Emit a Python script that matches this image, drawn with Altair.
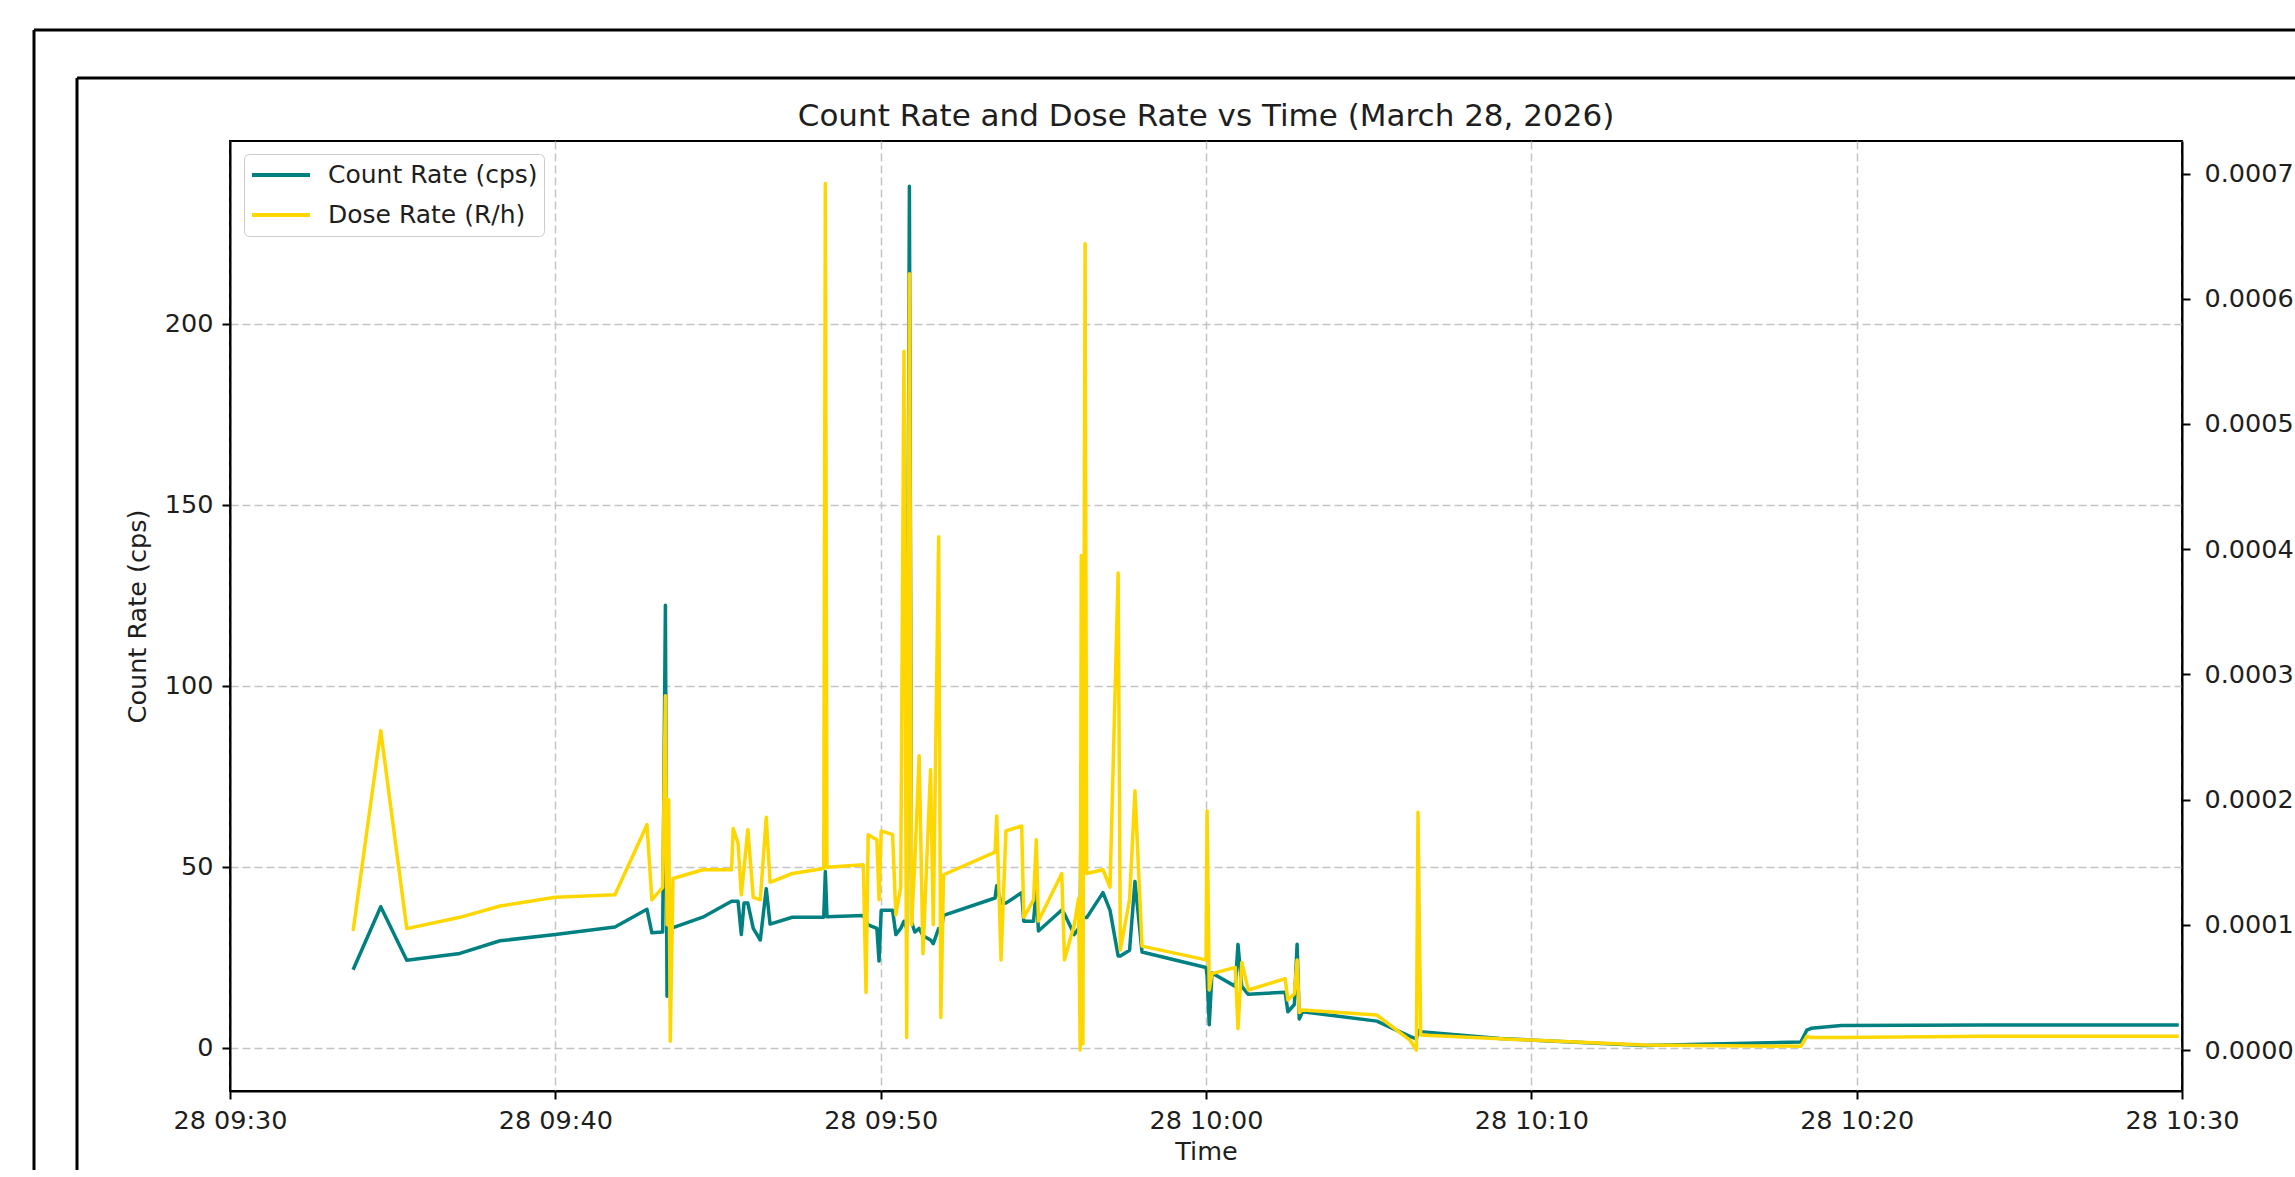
import altair as alt
import pandas as pd

# ---- data (time of day, count rate in cps, dose rate in R/h) ----
times = [
    "09:33:47", "09:34:38", "09:35:26", "09:37:04", "09:38:18", "09:40:00", "09:41:50",
    "09:42:49", "09:42:58", "09:43:18", "09:43:23", "09:43:26", "09:43:29", "09:43:32",
    "09:43:37", "09:44:32", "09:45:25", "09:45:28", "09:45:37", "09:45:43", "09:45:48",
    "09:45:55", "09:46:05", "09:46:18", "09:46:29", "09:46:36", "09:47:17", "09:48:15",
    "09:48:18", "09:48:21", "09:49:28", "09:49:33", "09:49:37", "09:49:53", "09:49:57",
    "09:50:01", "09:50:22", "09:50:28", "09:50:37", "09:50:43", "09:50:48", "09:50:53",
    "09:50:57", "09:51:03", "09:51:11", "09:51:18", "09:51:32", "09:51:37", "09:51:47",
    "09:51:51", "09:51:56", "09:53:31", "09:53:34", "09:53:42", "09:53:51", "09:54:20",
    "09:54:24", "09:54:42", "09:54:47", "09:54:51", "09:55:34", "09:55:39", "09:55:57",
    "09:56:05", "09:56:08", "09:56:10", "09:56:13", "09:56:17", "09:56:20", "09:56:50",
    "09:57:03", "09:57:18", "09:57:22", "09:57:39", "09:57:49", "09:58:02", "10:00:00",
    "10:00:02", "10:00:06", "10:00:11", "10:00:54", "10:00:59", "10:01:06", "10:01:18",
    "10:02:26", "10:02:31", "10:02:43", "10:02:48", "10:02:52", "10:02:58", "10:05:15",
    "10:06:16", "10:06:28", "10:06:31", "10:06:36", "10:09:02", "10:13:28", "10:18:17",
    "10:18:28", "10:18:36", "10:19:32", "10:24:00", "10:29:54",
]
count_rate = [
    21.6, 39.0, 24.2, 26.1, 29.6, 31.3, 33.4,
    38.3, 31.8, 32.0, 122.3, 14.3, 33.0, 33.0,
    33.2, 36.1, 40.5, 40.5, 40.5, 31.3, 40.0,
    40.0, 33.0, 29.8, 44.0, 34.2, 36.1, 36.1,
    48.7, 36.2, 36.6, 35.0, 34.0, 33.0, 24.0,
    38.0, 38.0, 31.3, 33.0, 35.0, 33.0, 238.0,
    34.7, 32.0, 33.0, 31.0, 29.8, 28.8, 33.0,
    32.0, 36.6, 41.4, 44.8, 40.0, 40.0, 42.9,
    35.0, 35.0, 44.0, 32.3, 38.1, 37.0, 31.3,
    33.0, 33.0, 78.0, 36.0, 36.0, 36.0, 42.9,
    38.0, 25.4, 25.4, 27.0, 46.0, 26.5, 22.2,
    20.0, 6.4, 20.7, 17.0, 28.6, 17.0, 14.8,
    15.4, 10.0, 12.0, 28.6, 8.0, 10.0, 7.4,
    3.2, 2.5, 4.8, 4.5, 2.6, 0.7, 1.6,
    4.9, 5.4, 6.2, 6.3, 6.3,
]
dose_rate = [
    0.95e-4, 2.55e-4, 0.97e-4, 1.06e-4, 1.15e-4, 1.22e-4, 1.24e-4,
    1.80e-4, 1.20e-4, 1.30e-4, 2.83e-4, 1.00e-4, 2.00e-4, 0.07e-4,
    1.37e-4, 1.44e-4, 1.44e-4, 1.77e-4, 1.65e-4, 1.24e-4, 1.45e-4,
    1.76e-4, 1.22e-4, 1.20e-4, 1.86e-4, 1.34e-4, 1.41e-4, 1.45e-4,
    6.92e-4, 1.46e-4, 1.48e-4, 0.46e-4, 1.72e-4, 1.68e-4, 1.20e-4,
    1.75e-4, 1.72e-4, 1.08e-4, 1.30e-4, 5.58e-4, 0.10e-4, 6.20e-4,
    1.00e-4, 1.50e-4, 2.35e-4, 0.77e-4, 2.24e-4, 1.00e-4, 4.10e-4,
    0.26e-4, 1.40e-4, 1.58e-4, 1.87e-4, 0.72e-4, 1.75e-4, 1.79e-4,
    1.06e-4, 1.20e-4, 1.68e-4, 1.03e-4, 1.41e-4, 0.72e-4, 1.00e-4,
    1.21e-4, 0.00e-4, 3.95e-4, 0.05e-4, 6.44e-4, 1.41e-4, 1.44e-4,
    1.30e-4, 3.81e-4, 0.80e-4, 1.20e-4, 2.07e-4, 0.83e-4, 0.72e-4,
    1.91e-4, 0.48e-4, 0.61e-4, 0.66e-4, 0.17e-4, 0.70e-4, 0.48e-4,
    0.57e-4, 0.40e-4, 0.45e-4, 0.72e-4, 0.30e-4, 0.32e-4, 0.28e-4,
    0.08e-4, 0.00e-4, 1.90e-4, 0.12e-4, 0.09e-4, 0.04e-4, 0.03e-4,
    0.11e-4, 0.10e-4, 0.10e-4, 0.11e-4, 0.11e-4,
]
series_names = ["Count Rate (cps)", "Dose Rate (R/h)"]
series_colors = ["#008080", "#FFD700"]
count_ticks = [0, 50, 100, 150, 200]
dose_ticks = [0.0, 0.0001, 0.0002, 0.0003, 0.0004, 0.0005, 0.0006, 0.0007]
time_ticks = ["09:30", "09:40", "09:50", "10:00", "10:10", "10:20", "10:30"]

df = pd.DataFrame({
    "time": ["2026-03-28T" + t for t in times],
    "count": count_rate,
    "dose": dose_rate,
})


def dt(hhmm):
    h, m = hhmm.split(":")
    return alt.DateTime(year=2026, month=3, date=28, hours=int(h), minutes=int(m))


FONT = "DejaVu Sans"
TXT = "#1e1e1e"
W, H = 1952, 950
PAD = {"left": 230, "top": 141, "right": 113, "bottom": 79}

color_scale = alt.Scale(domain=series_names, range=series_colors)

x_enc = alt.X(
    "time:T",
    title="Time",
    scale=alt.Scale(domain=[dt(time_ticks[0]), dt(time_ticks[-1])], nice=False),
    axis=alt.Axis(
        format="%d %H:%M",
        values=[dt(t) for t in time_ticks],
        grid=True,
        gridDash=[8, 4],
        gridColor="#c4c4c4",
        gridWidth=1.5,
        labelPadding=9,
        labelFlush=False,
        titlePadding=6,
    ),
)

legend = alt.Legend(
    title=None,
    orient="none",
    legendX=14,
    legendY=13,
    symbolType="stroke",
    symbolSize=3364,
    symbolStrokeWidth=4,
    labelFontSize=25,
    labelFont=FONT,
    labelColor=TXT,
    labelOffset=16,
    labelLimit=600,
    clipHeight=30,
    rowPadding=10,
    padding=6,
    strokeColor="#cccccc",
    fillColor="#ffffff",
    cornerRadius=5,
)

count_line = (
    alt.Chart(df)
    .transform_calculate(series="'Count Rate (cps)'")
    .mark_line(strokeWidth=3.5, strokeJoin="round")
    .encode(
        x=x_enc,
        y=alt.Y(
            "count:Q",
            title="Count Rate (cps)",
            scale=alt.Scale(domain=[-11.9, 250.5], nice=False, zero=False),
            axis=alt.Axis(
                orient="left",
                values=count_ticks,
                grid=True,
                gridDash=[8, 4],
                gridColor="#c4c4c4",
                gridWidth=1.5,
                labelPadding=9,
                titlePadding=14,
            ),
        ),
        color=alt.Color("series:N", scale=color_scale, legend=legend),
    )
)

dose_line = (
    alt.Chart(df)
    .transform_calculate(series="'Dose Rate (R/h)'")
    .mark_line(strokeWidth=3.5, strokeJoin="round")
    .encode(
        x=x_enc,
        y=alt.Y(
            "dose:Q",
            title=None,
            scale=alt.Scale(domain=[-0.0000327, 0.000726], nice=False, zero=False),
            axis=alt.Axis(
                orient="right",
                values=dose_ticks,
                format=".4f",
                grid=False,
                labelPadding=14,
            ),
        ),
        color=alt.Color("series:N", scale=color_scale, legend=legend),
    )
)

# screenshot frame lines around the figure (decoration only)
frame_data = alt.Data(values=[{"k": 0}])
frame_w = W + PAD["right"]
frame_b = H + PAD["bottom"]
frames = [
    alt.Chart(frame_data).mark_rule(color="black", strokeWidth=3).encode(
        x=alt.value(-196), y=alt.value(-111), y2=alt.value(frame_b)),
    alt.Chart(frame_data).mark_rule(color="black", strokeWidth=3).encode(
        x=alt.value(-196), x2=alt.value(frame_w), y=alt.value(-111)),
    alt.Chart(frame_data).mark_rule(color="black", strokeWidth=3).encode(
        x=alt.value(-153), y=alt.value(-63), y2=alt.value(frame_b)),
    alt.Chart(frame_data).mark_rule(color="black", strokeWidth=3).encode(
        x=alt.value(-153), x2=alt.value(frame_w), y=alt.value(-63)),
]

chart = (
    alt.layer(count_line, dose_line, *frames)
    .resolve_scale(y="independent")
    .properties(
        width=W,
        height=H,
        padding=PAD,
        autosize=alt.AutoSizeParams(type="none"),
        background="white",
        title=alt.TitleParams(
            "Count Rate and Dose Rate vs Time (March 28, 2026)",
            font=FONT,
            fontSize=31,
            fontWeight="normal",
            color=TXT,
            anchor="middle",
            frame="group",
            offset=-104,
        ),
    )
    .configure_view(stroke="black", strokeWidth=2)
    .configure_axis(
        labelFont=FONT,
        labelFontSize=25.5,
        labelColor=TXT,
        titleFont=FONT,
        titleFontSize=25.5,
        titleFontWeight="normal",
        titleColor=TXT,
        tickColor="black",
        tickSize=8,
        tickWidth=2,
        domainColor="black",
        domainWidth=2,
    )
)

chart.save("out.html", embed_options={"renderer": "svg", "actions": False})
